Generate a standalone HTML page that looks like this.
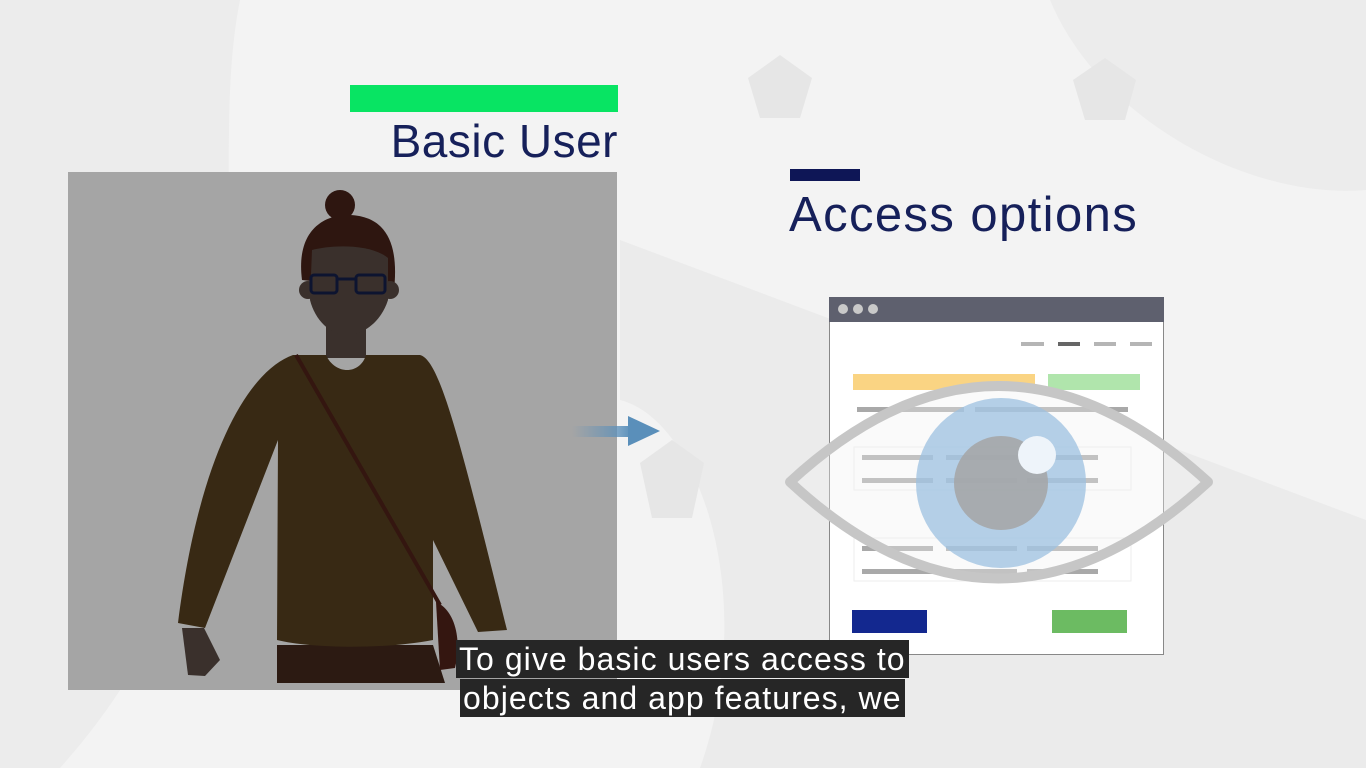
<!DOCTYPE html>
<html><head><style>
body{margin:0;width:1366px;height:768px;overflow:hidden;background:#f3f3f3;font-family:"Liberation Sans",sans-serif;position:relative}
.a{position:absolute}
.cap{position:absolute;background:#262626;color:#fff;font-size:32px;line-height:38px;padding:0 3px;white-space:nowrap;letter-spacing:1.05px}
</style></head><body>
<svg class="a" style="left:0;top:0" width="1366" height="768">
<path d="M240 0 C200 200 300 500 60 768 L0 768 L0 0Z" fill="#ececec"/>
<path d="M620 240 L1366 520 L1366 768 L700 768 C760 600 700 420 620 400Z" fill="#ebebeb"/>
<path d="M1050 0 C1100 120 1250 200 1366 190 L1366 0Z" fill="#ececec"/>
<g fill="#e6e6e6"><polygon points="780,55 812,78 800,118 760,118 748,78"/><polygon points="1105,58 1136,80 1125,120 1085,120 1073,80"/><polygon points="672,440 704,463 692,518 652,518 640,463"/></g>
</svg>
<div class="a" style="left:350px;top:85px;width:268px;height:27px;background:#08e463"></div>
<div class="a" style="left:300px;top:112px;width:318px;text-align:right;font-size:46px;color:#16205a;line-height:58px;letter-spacing:0.5px">Basic User</div>
<div class="a" style="left:790px;top:169px;width:70px;height:12px;background:#0e1656"></div>
<div class="a" style="left:789px;top:186px;font-size:49px;color:#16205a;line-height:58px;letter-spacing:1.4px">Access options</div>
<div class="a" style="left:68px;top:172px;width:549px;height:518px;background:#a5a5a5"></div>
<svg class="a" style="left:0;top:0" width="1366" height="768">
<circle cx="340" cy="205" r="15" fill="#2e1610"/>
<path d="M302 280 C295 225 330 215 347 215 C380 215 400 235 394 290Z" fill="#2e1610"/>
<rect x="326" y="310" width="40" height="48" fill="#3a302c"/>
<path d="M312 250 C330 245 370 243 388 258 L388 300 C380 325 360 335 347 335 C330 335 315 320 310 300Z" fill="#3a302c"/>
<circle cx="308" cy="290" r="9" fill="#3a302c"/><circle cx="390" cy="290" r="9" fill="#3a302c"/>
<rect x="311" y="275" width="26" height="18" rx="3" fill="none" stroke="#0d1430" stroke-width="3"/>
<rect x="356" y="275" width="29" height="18" rx="3" fill="none" stroke="#0d1430" stroke-width="3"/>
<line x1="337" y1="279" x2="356" y2="279" stroke="#0d1430" stroke-width="3"/>
<path d="M277 645 L433 645 L445 683 L277 683Z" fill="#2c1a12"/>
<path d="M293 355 L326 355 C335 375 360 375 366 355 L420 355 C440 360 460 440 507 630 L478 632 L433 540 L433 640 C380 650 310 648 277 640 L278 440 L205 628 L178 623 C200 450 250 370 293 355Z" fill="#382914"/>
<path d="M296 355 L440 605" stroke="#341610" stroke-width="4"/>
<path d="M436 602 C455 610 462 640 455 668 L440 670 Z" fill="#341610"/>
<path d="M182 628 L204 628 L220 660 L205 676 L188 675Z" fill="#3a302c"/>
<defs><linearGradient id="g" x1="0" x2="1"><stop offset="0" stop-color="#5a8fba" stop-opacity="0"/><stop offset="1" stop-color="#5a8fba"/></linearGradient></defs>
<rect x="572" y="426" width="60" height="11" fill="url(#g)"/>
<polygon points="628,416 660,431 628,446" fill="#5a8fba"/>
</svg>
<div class="a" style="left:829px;top:297px;width:335px;height:358px;background:#fff;border:1px solid #888;box-sizing:border-box"></div>
<div class="a" style="left:829px;top:297px;width:335px;height:25px;background:#5e606e"></div>
<svg class="a" style="left:0;top:0" width="1366" height="768">
<g fill="#c9c9c9"><circle cx="843" cy="309" r="5"/><circle cx="858" cy="309" r="5"/><circle cx="873" cy="309" r="5"/></g>
<g fill="#b5b5b5"><rect x="1021" y="342" width="23" height="4"/><rect x="1094" y="342" width="22" height="4"/><rect x="1130" y="342" width="22" height="4"/></g>
<rect x="1058" y="342" width="22" height="4" fill="#666"/>
<rect x="853" y="374" width="182" height="16" fill="#fad483"/><rect x="1048" y="374" width="92" height="16" fill="#b0e5ac"/>
<g fill="#a9a9a9"><rect x="857" y="407" width="107" height="5"/><rect x="975" y="407" width="153" height="5"/>
<rect x="862" y="455" width="71" height="5"/><rect x="946" y="455" width="71" height="5"/><rect x="1027" y="455" width="71" height="5"/>
<rect x="862" y="478" width="71" height="5"/><rect x="946" y="478" width="71" height="5"/><rect x="1027" y="478" width="71" height="5"/>
<rect x="862" y="546" width="71" height="5"/><rect x="946" y="546" width="71" height="5"/><rect x="1027" y="546" width="71" height="5"/>
<rect x="862" y="569" width="71" height="5"/><rect x="946" y="569" width="71" height="5"/><rect x="1027" y="569" width="71" height="5"/></g>
<rect x="854" y="447" width="277" height="43" fill="none" stroke="#eee"/>
<rect x="854" y="538" width="277" height="43" fill="none" stroke="#eee"/>
<rect x="852" y="610" width="75" height="23" fill="#13288f"/><rect x="1052" y="610" width="75" height="23" fill="#6cbb62"/>
<path d="M790 482 Q998 290 1208 482 Q998 675 790 482Z" fill="rgba(240,240,240,0.35)" stroke="#c6c6c6" stroke-width="10" stroke-linejoin="round"/>
<circle cx="1001" cy="483" r="85" fill="#9cc0e0" fill-opacity="0.75"/>
<circle cx="1001" cy="483" r="47" fill="#a4a4a4" fill-opacity="0.85"/>
<circle cx="1037" cy="455" r="19" fill="#eef4fa"/>
</svg>
<div class="cap" style="left:456px;top:640px">To give basic users access to</div>
<div class="cap" style="left:460px;top:679px">objects and app features, we</div>
</body></html>
